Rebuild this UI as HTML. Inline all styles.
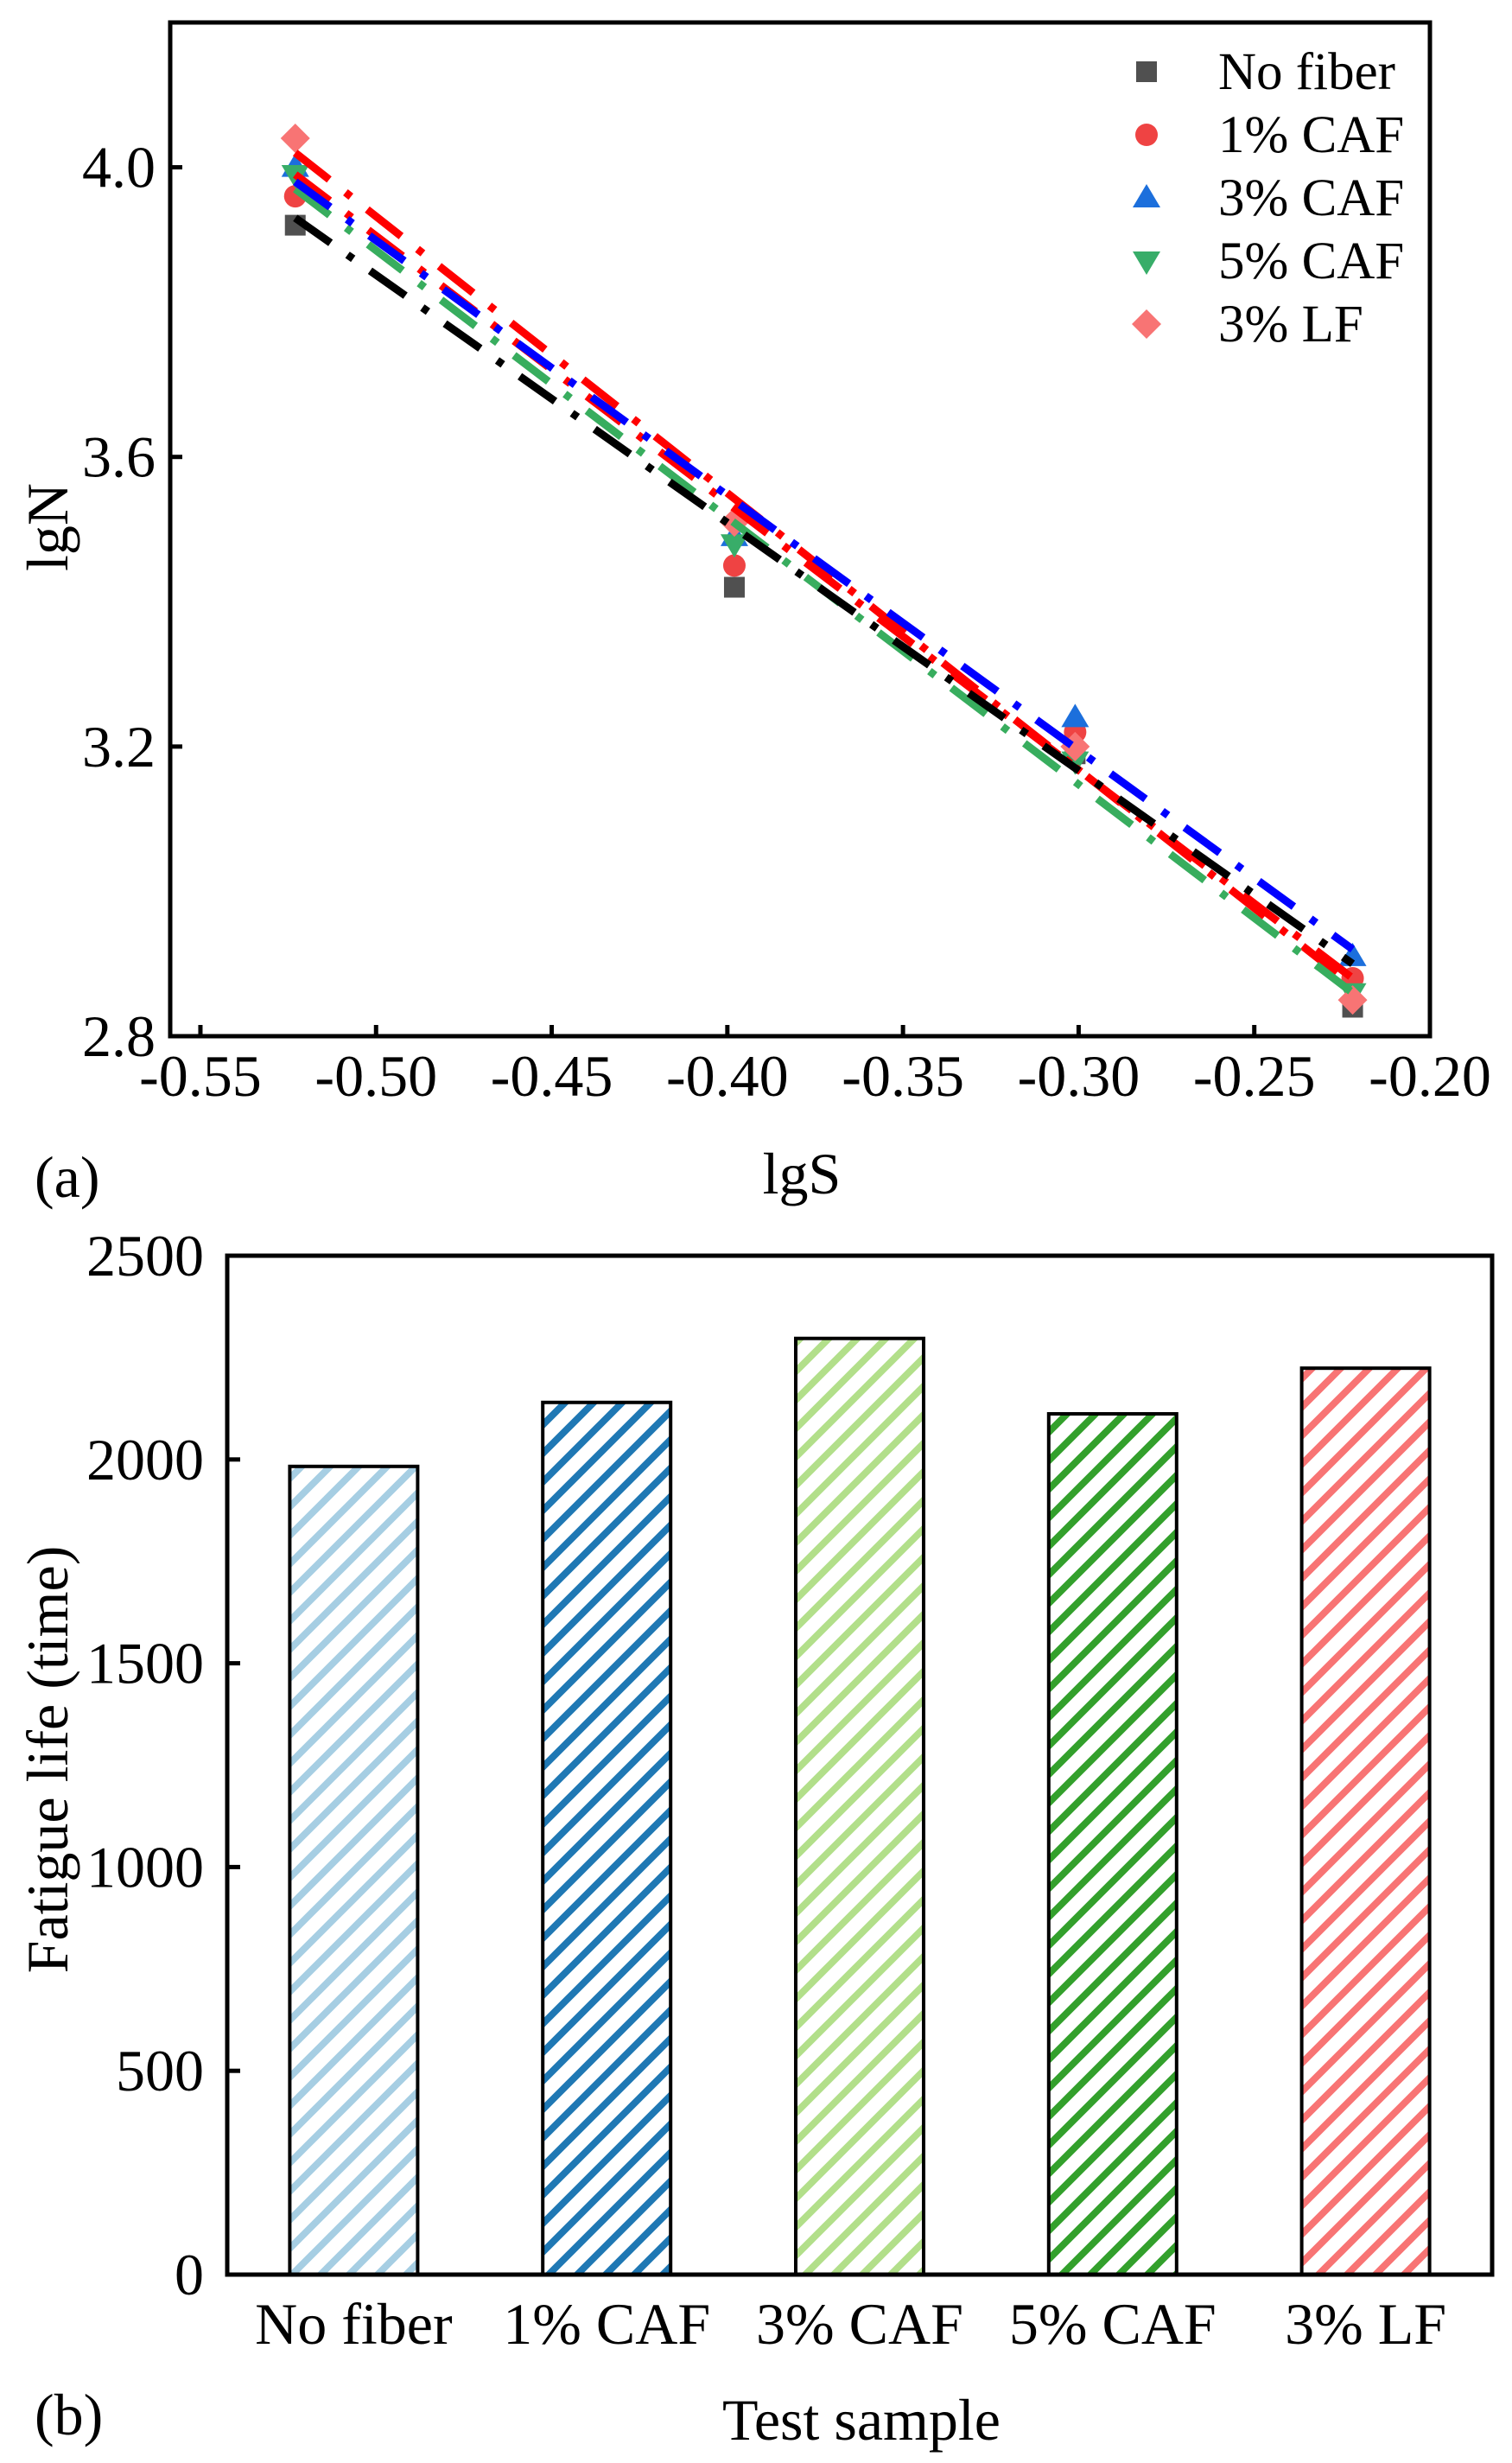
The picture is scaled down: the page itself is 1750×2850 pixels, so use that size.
<!DOCTYPE html>
<html><head><meta charset="utf-8">
<style>
html,body{margin:0;padding:0;background:#fff;}
svg{display:block;font-family:"Liberation Serif","Times New Roman",serif;}
</style></head>
<body>
<svg id="fig" width="1750" height="2850" viewBox="0 0 1750 2850" xmlns="http://www.w3.org/2000/svg">
<defs>
  <pattern id="hatch0" patternUnits="userSpaceOnUse" width="33" height="33"><path d="M-8,8 L8,-8 M0,33 L33,0 M25,41 L41,25" stroke="#a6cee3" stroke-width="8"/></pattern>
  <pattern id="hatch1" patternUnits="userSpaceOnUse" width="33" height="33"><path d="M-8,8 L8,-8 M0,33 L33,0 M25,41 L41,25" stroke="#1f78b4" stroke-width="8"/></pattern>
  <pattern id="hatch2" patternUnits="userSpaceOnUse" width="33" height="33"><path d="M-8,8 L8,-8 M0,33 L33,0 M25,41 L41,25" stroke="#b2df8a" stroke-width="8"/></pattern>
  <pattern id="hatch3" patternUnits="userSpaceOnUse" width="33" height="33"><path d="M-8,8 L8,-8 M0,33 L33,0 M25,41 L41,25" stroke="#33a02c" stroke-width="8"/></pattern>
  <pattern id="hatch4" patternUnits="userSpaceOnUse" width="33" height="33"><path d="M-8,8 L8,-8 M0,33 L33,0 M25,41 L41,25" stroke="#f87474" stroke-width="8"/></pattern>
</defs>
<g id="chartA"></g>
<g id="chartB"></g>
</svg>
<script>
// ---------- Chart (a) data ----------
const lgS = [-0.523, -0.398, -0.301, -0.222];
const seriesNames = ["No fiber", "1% CAF", "3% CAF", "5% CAF", "3% LF"];
const noFiber = [3.92, 3.42, 3.19, 2.84];
const caf1 = [3.96, 3.45, 3.22, 2.88];
const caf3 = [4.00, 3.49, 3.24, 2.91];
const caf5 = [3.99, 3.48, 3.18, 2.86];
const lf3 = [4.04, 3.51, 3.20, 2.85];
// fitted line values at first and last lgS (per series)
const fitStart = [3.93, 3.99, 3.98, 3.97, 4.02];
const fitEnd = [2.90, 2.88, 2.92, 2.86, 2.87];
const xTicksA = [-0.55, -0.50, -0.45, -0.40, -0.35, -0.30, -0.25, -0.20];
const yTicksA = [2.8, 3.2, 3.6, 4.0];
// ---------- Chart (b) data ----------
const categories = ["No fiber", "1% CAF", "3% CAF", "5% CAF", "3% LF"];
const fatigueLife = [1983, 2140, 2297, 2112, 2224];
const yTicksB = [0, 500, 1000, 1500, 2000, 2500];

const NS = "http://www.w3.org/2000/svg";
function mk(tag, attrs, parent){const e=document.createElementNS(NS,tag);for(const k in attrs)e.setAttribute(k,attrs[k]);parent.appendChild(e);return e;}

// ---------- Chart (a) ----------
(function(){
  const g=document.getElementById('chartA');
  const L=197,R=1655,T=26,B=1199;
  const x0=-0.5586,x1=-0.20,y0=2.8,y1=4.2;
  const sx=v=>L+(v-x0)/(x1-x0)*(R-L);
  const sy=v=>B-(v-y0)/(y1-y0)*(B-T);
  const all=[noFiber,caf1,caf3,caf5,lf3];
  const mColors=["#505050","#ef4343","#1c6fdc","#38ad69","#f87474"];
  const lColors=["#000000","#ff0000","#0000ff","#38ad5e","#ff0000"];
  const shapes=["square","circle","tri","tridown","diamond"];
  function marker(shape,cx,cy,color,parent){
    let e;
    if(shape==="square") e=mk('rect',{x:cx-12,y:cy-12,width:24,height:24,fill:color},parent);
    else if(shape==="circle") e=mk('circle',{cx:cx,cy:cy,r:13,fill:color},parent);
    else if(shape==="tri") e=mk('polygon',{points:`${cx},${cy-16} ${cx+16},${cy+11} ${cx-16},${cy+11}`,fill:color},parent);
    else if(shape==="tridown") e=mk('polygon',{points:`${cx-16},${cy-11} ${cx+16},${cy-11} ${cx},${cy+16}`,fill:color},parent);
    else e=mk('polygon',{points:`${cx},${cy-17} ${cx+17},${cy} ${cx},${cy+17} ${cx-17},${cy}`,fill:color},parent);
    return e;
  }
  all.forEach((s,si)=>{
    s.forEach((v,i)=>{
      const m=marker(shapes[si],sx(lgS[i]),sy(v),mColors[si],g);
      
      
    });
  });
  const drawOrder=[1,4,3,2,0];
  const xa=lgS[0],xb=lgS[lgS.length-1];
  drawOrder.forEach(si=>{
    const ln=mk('line',{x1:sx(xa),y1:sy(fitStart[si]),x2:sx(xb),y2:sy(fitEnd[si]),stroke:lColors[si],'stroke-width':9,'stroke-dasharray':'50 24 8 24'},g);
    
    
  });
  const fr=mk('rect',{x:L,y:T,width:R-L,height:B-T,fill:'none',stroke:'#000','stroke-width':5},g);
  
  
  xTicksA.forEach(v=>{
    const x=sx(v);
    const t=mk('line',{x1:x,y1:B,x2:x,y2:B-13,stroke:'#000','stroke-width':5},g);
    
    
    const tx=mk('text',{x:x,y:1268,'font-size':68,'text-anchor':'middle'},g);
    tx.textContent=v.toFixed(2);
    
    
  });
  yTicksA.forEach(v=>{
    const y=sy(v);
    const t=mk('line',{x1:L,y1:y,x2:L+14,y2:y,stroke:'#000','stroke-width':5},g);
    
    
    const tx=mk('text',{x:180,y:y+23,'font-size':68,'text-anchor':'end'},g);
    tx.textContent=v.toFixed(1);
    
    
  });
  seriesNames.forEach((nm,i)=>{
    const cy=83+i*73;
    const m=marker(shapes[i],1327,cy,mColors[i],g);
    
    
    const tx=mk('text',{x:1410,y:cy+20,'font-size':61},g);
    tx.textContent=nm;
    
    
  });
  const xt=mk('text',{x:928,y:1381,'font-size':68,'text-anchor':'middle'},g);
  xt.textContent='lgS';
  
  
  const yt=mk('text',{x:0,y:0,'font-size':68,'text-anchor':'middle',transform:'translate(78,610) rotate(-90)'},g);
  yt.textContent='lgN';
  
  
  const pl=mk('text',{x:40,y:1385,'font-size':68},g);
  pl.textContent='(a)';
  
  
})();

// ---------- Chart (b) ----------
(function(){
  const g=document.getElementById('chartB');
  const L=263,R=1727,T=1453,B=2632;
  const ymax=2500;
  const sy=v=>B-v/ymax*(B-T);
  const band=(R-L)/categories.length;
  const bw=148;
  categories.forEach((c,i)=>{
    const cx=L+band*(i+0.5);
    const r=mk('rect',{x:cx-bw/2,y:sy(fatigueLife[i]),width:bw,height:B-sy(fatigueLife[i]),fill:'url(#hatch'+i+')',stroke:'#000','stroke-width':4},g);
    
    
    const tx=mk('text',{x:cx,y:2712,'font-size':68,'text-anchor':'middle'},g);
    tx.textContent=c;
    
    
  });
  const fr=mk('rect',{x:L,y:T,width:R-L,height:B-T,fill:'none',stroke:'#000','stroke-width':5},g);
  
  
  yTicksB.forEach(v=>{
    const y=sy(v);
    const t=mk('line',{x1:L,y1:y,x2:L+15,y2:y,stroke:'#000','stroke-width':5},g);
    
    
    const tx=mk('text',{x:236,y:y+23,'font-size':68,'text-anchor':'end'},g);
    tx.textContent=String(v);
    
    
  });
  const xt=mk('text',{x:997,y:2823,'font-size':68,'text-anchor':'middle'},g);
  xt.textContent='Test sample';
  
  
  const yt=mk('text',{x:0,y:0,'font-size':68,'text-anchor':'middle',transform:'translate(78,2036) rotate(-90)'},g);
  yt.textContent='Fatigue life (time)';
  
  
  const pl=mk('text',{x:40,y:2817,'font-size':68},g);
  pl.textContent='(b)';
  
  
})();
</script>
</body></html>
